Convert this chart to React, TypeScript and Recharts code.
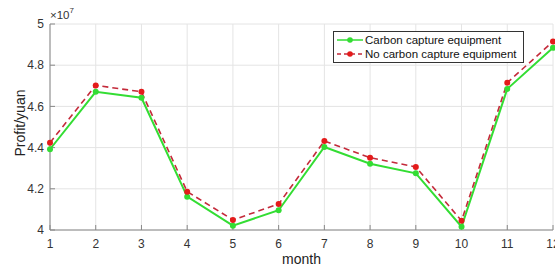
import React from 'react'
import { LineChart, Line, XAxis, YAxis, CartesianGrid, Legend } from 'recharts'

// month index and profit in units of 10^7 yuan
const months = [1, 2, 3, 4, 5, 6, 7, 8, 9, 10, 11, 12]
const withCapture = [4.392, 4.671, 4.642, 4.162, 4.021, 4.096, 4.403, 4.322, 4.275, 4.016, 4.685, 4.885]
const withoutCapture = [4.424, 4.702, 4.671, 4.186, 4.049, 4.126, 4.432, 4.351, 4.306, 4.045, 4.715, 4.915]
const yTicks = [4, 4.2, 4.4, 4.6, 4.8, 5]

const GREEN = '#33dd33'
const RED_LINE = '#c42a3a'
const RED_DOT = '#e41b1b'
const FONT = '"Liberation Sans", Arial, sans-serif'

const data = months.map((m, i) => ({
  month: m,
  capture: withCapture[i],
  noCapture: withoutCapture[i],
}))

const legendItems = [
  { name: 'Carbon capture equipment', line: GREEN, dot: GREEN, dash: undefined },
  { name: 'No carbon capture equipment', line: RED_LINE, dot: RED_DOT, dash: '4 3' },
]

const renderLegend = () => (
  <div
    style={{
      border: '1px solid #333',
      background: '#fff',
      padding: '1px 6px 1px 2px',
      fontSize: 11.5,
      lineHeight: '14px',
      color: '#111',
      fontFamily: FONT,
      whiteSpace: 'nowrap',
    }}
  >
    {legendItems.map((it) => (
      <div key={it.name} style={{ display: 'flex', alignItems: 'center' }}>
        <svg width={28} height={10} style={{ marginRight: 1 }}>
          <line x1={1} y1={5} x2={27} y2={5} stroke={it.line} strokeWidth={1.5} strokeDasharray={it.dash} />
          <circle cx={14} cy={5} r={2.8} fill={it.dot} />
        </svg>
        <span>{it.name}</span>
      </div>
    ))}
  </div>
)

const YLabel = (props: any) => {
  const { viewBox } = props
  const cx = viewBox.x + 20
  const cy = viewBox.y + viewBox.height / 2 - 4
  return (
    <text x={cx} y={cy} transform={`rotate(-90 ${cx} ${cy})`} textAnchor="middle" dominantBaseline="central"
      fontSize={14} fill="#222" fontFamily={FONT}>
      Profit/yuan
    </text>
  )
}

const XLabel = (props: any) => {
  const { viewBox } = props
  return (
    <text x={viewBox.x + viewBox.width / 2} y={viewBox.y + 29} textAnchor="middle" dominantBaseline="central"
      fontSize={14} fill="#222" fontFamily={FONT}>
      month
    </text>
  )
}

// bottom tick drawn at the true scale coordinate (so the last label gets clipped by the page edge)
const XTick = (props: any) => {
  const { payload, y } = props
  return (
    <text x={payload.coordinate} y={y} dy={9} textAnchor="middle" fontSize={12} fill="#333" fontFamily={FONT}>
      {payload.value}
    </text>
  )
}

const tickStyle = { fontSize: 12, fill: '#333', fontFamily: FONT }

export default function App() {
  return (
    <div style={{ position: 'absolute', left: 0, top: 0, width: 555, height: 270, background: '#fff', fontFamily: FONT, overflow: 'hidden' }}>
      <LineChart width={555} height={270} data={data} margin={{ top: 24, right: 2, bottom: 20, left: 0 }}
        style={{ overflow: 'hidden' }}>
        <CartesianGrid stroke="#e4e4e4" />
        <XAxis
          dataKey="month"
          type="number"
          domain={[1, 12]}
          ticks={months}
          height={20}
          stroke="#888"
          tickSize={-5}
          tickMargin={14}
          tick={<XTick />}
          label={<XLabel />}
        />
        <XAxis
          xAxisId="top"
          orientation="top"
          dataKey="month"
          type="number"
          domain={[1, 12]}
          ticks={months}
          height={0}
          stroke="#888"
          tickSize={-5}
          tick={false}
        />
        <YAxis
          type="number"
          domain={[4, 5]}
          ticks={yTicks}
          width={50}
          stroke="#888"
          tickSize={-5}
          tickMargin={11}
          tick={tickStyle}
          tickFormatter={(v: number) => String(v)}
          label={<YLabel />}
        />
        <YAxis
          yAxisId="right"
          orientation="right"
          type="number"
          domain={[4, 5]}
          ticks={yTicks}
          width={0}
          stroke="#888"
          tickSize={-5}
          tick={false}
        />
        <Legend layout="vertical" align="center" verticalAlign="middle" content={renderLegend}
          wrapperStyle={{ left: 333, top: 31, width: 'auto', height: 'auto' }} />
        <Line
          type="linear"
          dataKey="capture"
          name="Carbon capture equipment"
          stroke={GREEN}
          strokeWidth={2}
          dot={{ r: 3, fill: GREEN, stroke: 'none' }}
          isAnimationActive={false}
        />
        <Line
          type="linear"
          dataKey="noCapture"
          name="No carbon capture equipment"
          stroke={RED_LINE}
          strokeWidth={1.6}
          strokeDasharray="6 4"
          dot={{ r: 3, fill: RED_DOT, stroke: 'none' }}
          isAnimationActive={false}
        />
      </LineChart>
      <div style={{ position: 'absolute', left: 50, top: 9, fontSize: 11.5, color: '#333', lineHeight: '12px' }}>
        ×10<sup style={{ fontSize: 8, verticalAlign: 'top', position: 'relative', top: -4 }}>7</sup>
      </div>
    </div>
  )
}
